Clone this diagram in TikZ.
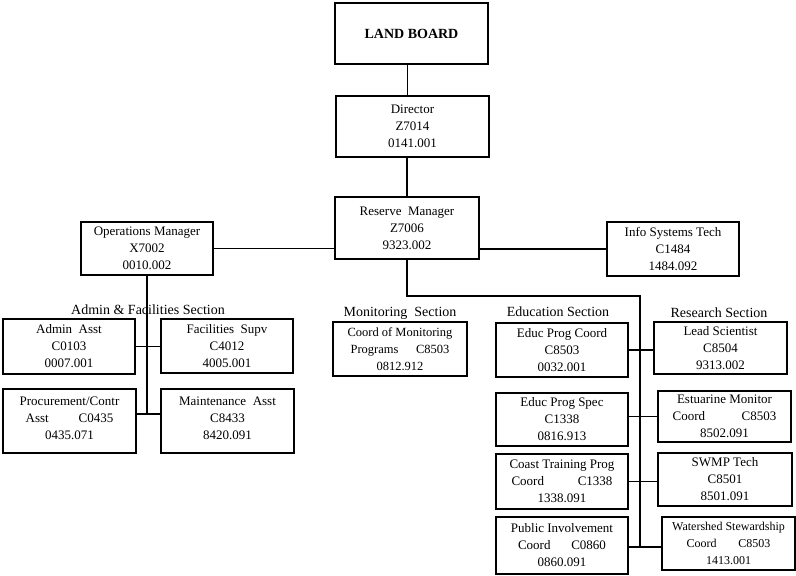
\documentclass[tikz,border=0pt]{standalone}
\usepackage{fontspec}
\setmainfont{Liberation Serif}
\begin{document}
\begin{tikzpicture}[x=1pt,y=-1pt,
  box/.style={draw=black,line width=1.3pt,rectangle,inner sep=0pt,align=center,
    font=\fontsize{13}{17}\selectfont},
  heavybox/.style={box,line width=2.2pt},
  seclabel/.style={inner sep=0pt,font=\fontsize{14}{16}\selectfont},
  link/.style={draw=black,line width=1.4pt}]
\useasboundingbox (0,0) rectangle (796,576);

% top of the chain
\node[box,minimum width=153pt,minimum height=61pt,font=\bfseries\fontsize{14}{17}\selectfont]
  (land) at (411.5,33.5) {LAND BOARD};
\node[box,minimum width=153pt,minimum height=61pt] (dir) at (412.5,126.5)
  {Director\\Z7014\\0141.001};
\node[box,minimum width=144pt,minimum height=62pt] (res) at (407,228)
  {Reserve\ \ Manager\\Z7006\\9323.002};
\node[box,minimum width=132pt,minimum height=53pt] (ops) at (147,248.5)
  {Operations Manager\\X7002\\0010.002};
\node[box,minimum width=132pt,minimum height=54pt] (info) at (673,249)
  {Info Systems Tech\\C1484\\1484.092};

% admin & facilities section
\node[seclabel] (secadmin) at (148,310) {Admin \& Facilities Section};
\node[box,minimum width=132pt,minimum height=55pt] (admin) at (69,346.5)
  {Admin\ \ Asst\\C0103\\0007.001};
\node[box,minimum width=132pt,minimum height=54pt] (fac) at (227,346)
  {Facilities\ \ Supv\\C4012\\4005.001};
\node[box,minimum width=133pt,minimum height=64pt] (proc) at (69.5,421)
  {Procurement/Contr\\Asst\hspace{2.3em}C0435\\0435.071\\[-11pt]\mbox{}};
\node[box,minimum width=133pt,minimum height=64pt] (maint) at (227.5,421)
  {Maintenance\ \ Asst\\C8433\\8420.091\\[-11pt]\mbox{}};

% monitoring section
\node[seclabel] (secmon) at (400,313) {Monitoring\ \ Section};
\node[heavybox,minimum width=134pt,minimum height=54pt,font=\fontsize{12.5}{17}\selectfont]
  (mon) at (400,349) {Coord of Monitoring\\Programs\hspace{1.4em}C8503\\0812.912};

% education section
\node[seclabel] (secedu) at (558,312) {Education Section};
\node[box,minimum width=132pt,minimum height=54pt] (ecoord) at (562,350)
  {Educ Prog Coord\\C8503\\0032.001};
\node[box,minimum width=132pt,minimum height=53pt] (espec) at (562,419.5)
  {Educ Prog Spec\\C1338\\0816.913};
\node[box,minimum width=132pt,minimum height=55pt] (coast) at (562,481.5)
  {Coast Training Prog\\Coord\hspace{2.6em}C1338\\1338.091};
\node[box,minimum width=132pt,minimum height=57pt] (pub) at (562,545.5)
  {Public Involvement\\Coord\hspace{1.6em}C0860\\0860.091};

% research section
\node[seclabel] (secres) at (719,313) {Research Section};
\node[heavybox,minimum width=133pt,minimum height=52pt] (lead) at (720.5,348)
  {Lead Scientist\\C8504\\9313.002};
\node[box,minimum width=133pt,minimum height=51pt] (estu) at (724.5,416.5)
  {Estuarine Monitor\\Coord\hspace{2.8em}C8503\\8502.091};
\node[box,minimum width=134pt,minimum height=53pt] (swmp) at (725,479.5)
  {SWMP Tech\\C8501\\8501.091};
\node[box,minimum width=133pt,minimum height=53pt,font=\fontsize{12}{17}\selectfont]
  (water) at (728.5,543.5) {Watershed Stewardship\\Coord\hspace{1.8em}C8503\\1413.001};

% trunk junctions
\coordinate (rtop) at (640,296);
\coordinate (rbot) at (640,547);
\coordinate (obot) at (147,414);

% connectors
\draw[link] ([xshift=-4pt]land.south) -- ([xshift=-4pt]land.south |- dir.north);
\draw[link] (dir.south -| res.south) -- (res.north);
\draw[link] (ops.east) -- (ops.east -| res.west);
\draw[link] (res.east |- info.west) -- (info.west);
\draw[link] (ops.south) -- (obot);
\draw[link] (admin.east) -- (admin.east -| fac.west);
\draw[link] (proc.east |- obot) -- (maint.west |- obot);
\draw[link] (res.south) |- (rtop) -- (rbot);
\draw[link] (ecoord.east) -- (ecoord.east -| lead.west);
\draw[link] (estu.west -| espec.east) -- (estu.west);
\draw[link] (coast.east) -- (coast.east -| swmp.west);
\draw[link] (pub.east |- rbot) -- (water.west |- rbot);
\end{tikzpicture}
\end{document}
